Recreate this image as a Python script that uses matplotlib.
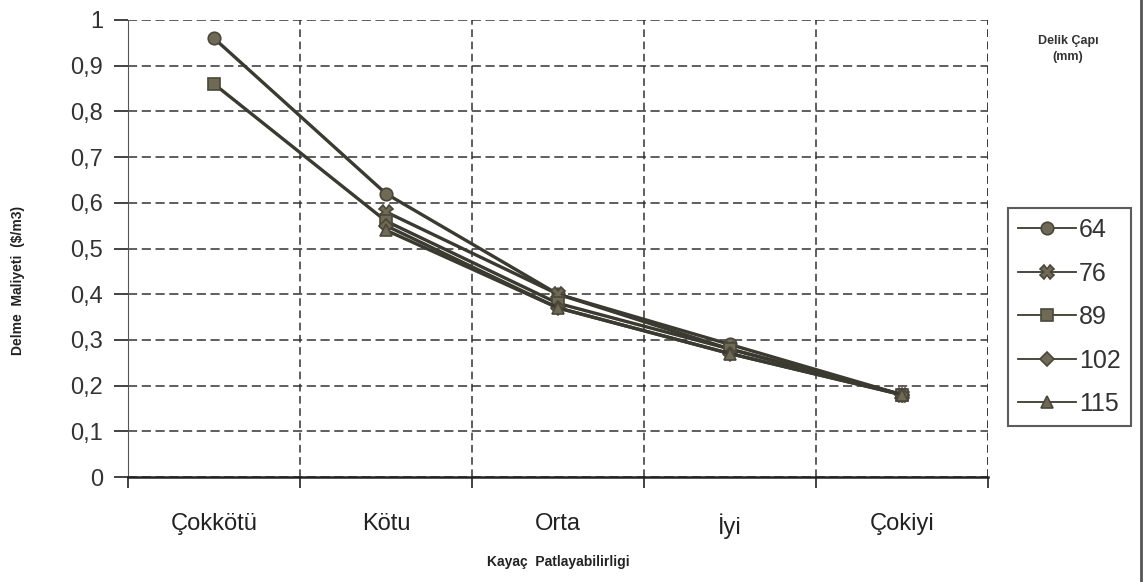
import matplotlib
matplotlib.use('Agg')
import matplotlib.pyplot as plt
import numpy as np

# veriler (grafikten okunmuş yaklaşık değerler)
kategoriler = ['Çokkötü', 'Kötu', 'Orta', 'İyi', 'Çokiyi']
cap_64 = [0.96, 0.62, 0.40, 0.29, 0.18]
cap_76 = [np.nan, 0.58, 0.40, 0.28, 0.18]
cap_89 = [0.86, 0.56, 0.38, 0.28, 0.18]
cap_102 = [np.nan, 0.55, 0.37, 0.27, 0.18]
cap_115 = [np.nan, 0.54, 0.37, 0.27, 0.18]
y_ticks = [0, 0.1, 0.2, 0.3, 0.4, 0.5, 0.6, 0.7, 0.8, 0.9, 1]
y_labels = ['0', '0,1', '0,2', '0,3', '0,4', '0,5', '0,6', '0,7', '0,8', '0,9', '1']

plt.rcParams['font.family'] = ['Liberation Sans', 'DejaVu Sans']

fig = plt.figure(figsize=(11.44, 5.82), dpi=100)
ax = fig.add_axes([128 / 1144, 1 - 477 / 582, (988 - 128) / 1144, (477 - 20) / 582])

x = np.arange(len(kategoriler))
seriler = [
    (cap_64, 'o', '64', 9),
    (cap_76, 'X', '76', 10),
    (cap_89, 's', '89', 9),
    (cap_102, 'D', '102', 7),
    (cap_115, '^', '115', 9),
]
cizgi = '#3b3a30'
dolgu = '#6f6a55'
for degerler, isaret, ad, boy in seriler:
    ax.plot(x, degerler, color=cizgi, linewidth=2.4, marker=isaret,
            markersize=boy, markerfacecolor=dolgu, markeredgecolor='#4a473a',
            markeredgewidth=1.2, label=ad, zorder=3)

ax.set_xlim(-0.5, 4.5)
ax.set_ylim(0, 1)

# eksenler
ax.set_xticks(x)
ax.set_xticklabels(kategoriler, fontsize=17, fontstretch='condensed', color='#222222')
ax.tick_params(axis='x', which='major', length=0, pad=26)
ax.set_xticks(np.arange(-0.5, 5, 1), minor=True)
ax.tick_params(axis='x', which='minor', length=8, width=1.2, color='#222222')

ax.set_yticks(y_ticks)
ax.set_yticklabels(y_labels, fontsize=17, color='#333333')
ax.tick_params(axis='y', length=10, width=1.2, color='#222222', pad=8)

ax.grid(True, axis='y', which='major', color='#333333', linestyle=(0, (6, 3)), linewidth=1.1)
ax.grid(True, axis='x', which='minor', color='#333333', linestyle=(0, (5, 3)), linewidth=1.1)
ax.axvline(4.5, color='#333333', linestyle=(0, (5, 3)), linewidth=1.1)

for s in ['top', 'right']:
    ax.spines[s].set_visible(False)
ax.spines['left'].set_color('#555555')
ax.spines['bottom'].set_color('#222222')
ax.spines['bottom'].set_linewidth(1.8)

fig.text(558 / 1144, 1 - 562 / 582, 'Kayaç  Patlayabilirligi',
         ha='center', va='center', fontsize=10, fontweight='bold', color='#222222')
fig.text(18 / 1144, 1 - 280 / 582, 'Delme  Maliyeti  ($/m3)', rotation=90,
         ha='center', va='center', fontsize=10, fontweight='bold', color='#222222')

# gösterge
fig.text(1068 / 1144, 1 - 49 / 582, 'Delik Çapı\n(mm)', ha='center', va='center',
         fontsize=9, fontweight='bold', color='#333333', linespacing=1.4)
leg = fig.legend(loc='upper left', bbox_to_anchor=(1008 / 1144, 1 - 208 / 582),
                 fontsize=18, frameon=True, fancybox=False, borderpad=0.4,
                 handlelength=2.3, handletextpad=0.15, labelspacing=0.78,
                 borderaxespad=0)
leg.get_frame().set_edgecolor('#333333')
leg.get_frame().set_linewidth(1.5)
for t in leg.get_texts():
    t.set_color('#333333')
for h in leg.legend_handles:
    h.set_linewidth(1.3)

fig.add_artist(plt.Line2D([1141 / 1144, 1141 / 1144], [0, 1], color='#555555', linewidth=2))

fig.savefig('out.png', dpi=100)
